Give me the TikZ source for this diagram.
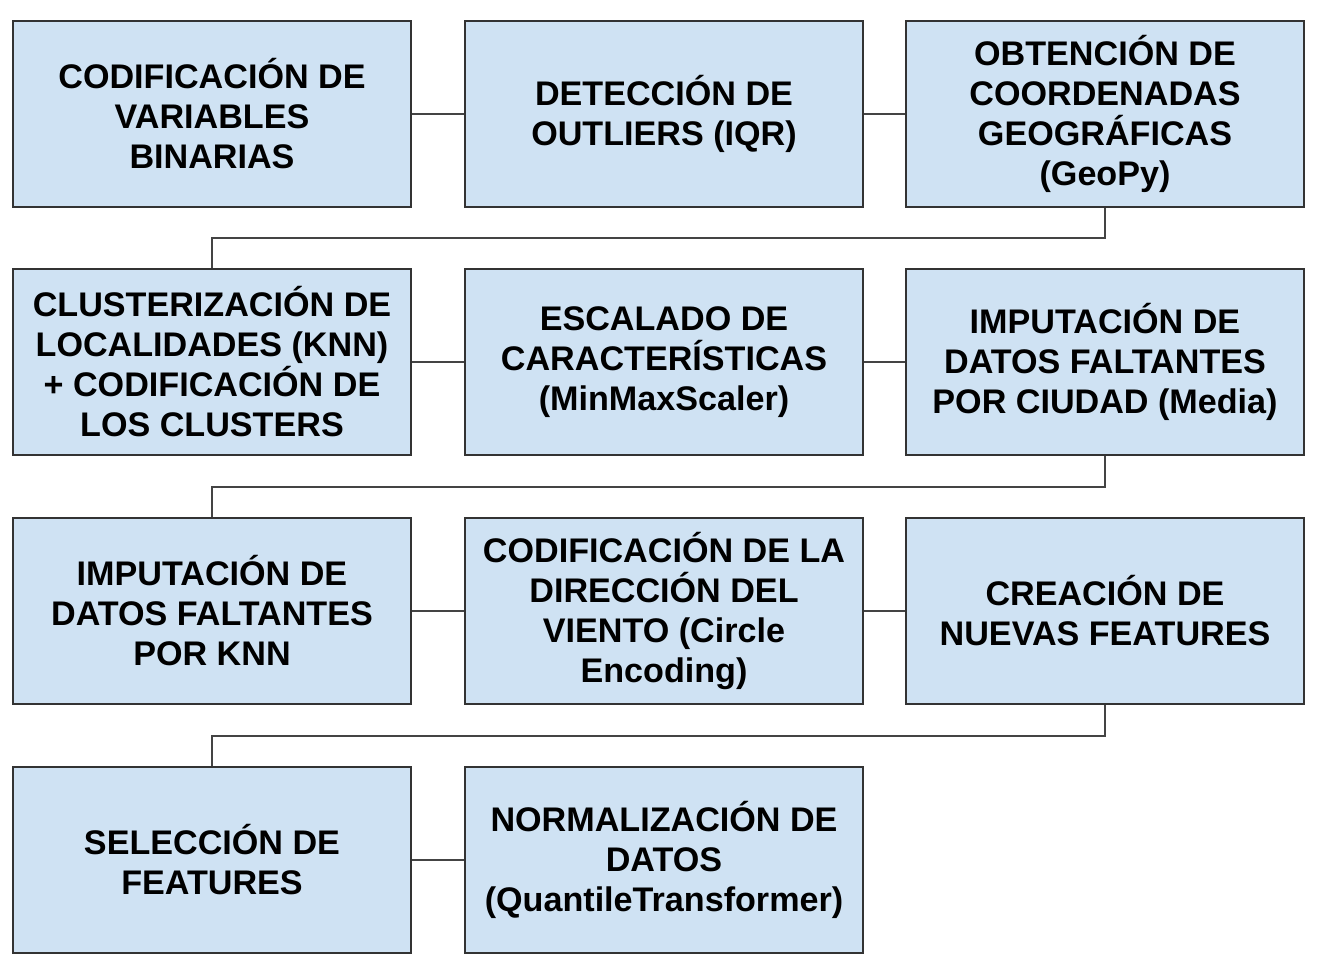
\documentclass[tikz,border=0pt]{standalone}
\usepackage{fontspec}
\setmainfont{Liberation Sans}
\definecolor{boxfill}{HTML}{CFE2F3}
\definecolor{boxline}{HTML}{333333}
\definecolor{conline}{HTML}{444444}
\begin{document}
\begin{tikzpicture}[x=0.75pt,y=-0.75pt,
  stepbox/.style={draw=boxline,fill=boxfill,line width=1.5pt,inner sep=0pt,
    minimum width=298.5pt,minimum height=139.5pt,align=center,
    font=\bfseries\fontsize{25.6}{30}\selectfont},
  conn/.style={draw=conline,line width=1.1pt}]
\useasboundingbox[fill=white] (0,0) rectangle (1319,970);
\node[stepbox] (b1) at (212,114) {CODIFICACIÓN DE\\VARIABLES\\BINARIAS};
\node[stepbox] (b2) at (664,114) {DETECCIÓN DE\\OUTLIERS (IQR)};
\node[stepbox] (b3) at (1105,114) {OBTENCIÓN DE\\COORDENADAS\\GEOGRÁFICAS\\(GeoPy)};
\node[stepbox] (b4) at (212,362) {CLUSTERIZACIÓN DE\\LOCALIDADES (KNN)\\+ CODIFICACIÓN DE\\LOS CLUSTERS};
\node[stepbox] (b5) at (664,362) {ESCALADO DE\\CARACTERÍSTICAS\\(MinMaxScaler)};
\node[stepbox] (b6) at (1105,362) {IMPUTACIÓN DE\\DATOS FALTANTES\\POR CIUDAD (Media)};
\node[stepbox] (b7) at (212,611) {IMPUTACIÓN DE\\DATOS FALTANTES\\POR KNN};
\node[stepbox] (b8) at (664,611) {CODIFICACIÓN DE LA\\DIRECCIÓN DEL\\VIENTO (Circle\\Encoding)};
\node[stepbox] (b9) at (1105,611) {CREACIÓN DE\\NUEVAS FEATURES};
\node[stepbox] (b10) at (212,860) {SELECCIÓN DE\\FEATURES};
\node[stepbox] (b11) at (664,860) {NORMALIZACIÓN DE\\DATOS\\(QuantileTransformer)};
\coordinate (m1) at (660,238);
\coordinate (m2) at (660,487);
\coordinate (m3) at (660,736);
\draw[conn] (b1.east) -- (b2.west);
\draw[conn] (b2.east) -- (b3.west);
\draw[conn] (b3.south) |- (b4.north |- m1) -- (b4.north);
\draw[conn] (b4.east) -- (b5.west);
\draw[conn] (b5.east) -- (b6.west);
\draw[conn] (b6.south) |- (b7.north |- m2) -- (b7.north);
\draw[conn] (b7.east) -- (b8.west);
\draw[conn] (b8.east) -- (b9.west);
\draw[conn] (b9.south) |- (b10.north |- m3) -- (b10.north);
\draw[conn] (b10.east) -- (b11.west);
\end{tikzpicture}
\end{document}
